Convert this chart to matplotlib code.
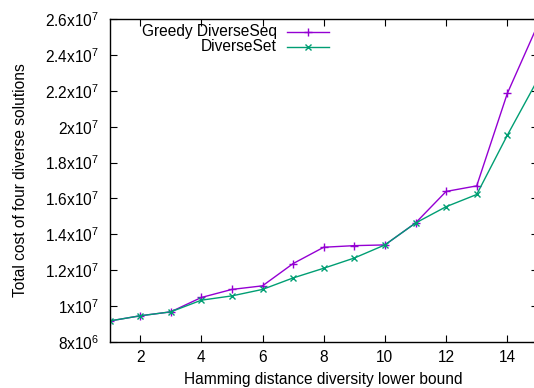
import matplotlib
matplotlib.use("Agg")
import matplotlib.pyplot as plt
from matplotlib.ticker import FixedLocator, FixedFormatter

# ── Dati ──────────────────────────────────────────────────────────────────────
x_bound = [1, 2, 3, 4, 5, 6, 7, 8, 9, 10, 11, 12, 13, 14, 15]
greedy_seq = [9.17e6, 9.46e6, 9.68e6, 10.48e6, 10.93e6, 11.13e6, 12.37e6, 13.28e6,
              13.37e6, 13.41e6, 14.63e6, 16.39e6, 16.70e6, 21.85e6, 25.69e6]
diverse_set = [9.17e6, 9.46e6, 9.68e6, 10.33e6, 10.57e6, 10.93e6, 11.57e6, 12.11e6,
               12.68e6, 13.41e6, 14.63e6, 15.54e6, 16.22e6, 19.52e6, 22.64e6]
series_names = ["Greedy DiverseSeq", "DiverseSet"]

y_ticks = [8e6, 1e7, 1.2e7, 1.4e7, 1.6e7, 1.8e7, 2e7, 2.2e7, 2.4e7, 2.6e7]
y_ticklabels = ["8x10$^{6}$", "1x10$^{7}$", "1.2x10$^{7}$", "1.4x10$^{7}$", "1.6x10$^{7}$",
                "1.8x10$^{7}$", "2x10$^{7}$", "2.2x10$^{7}$", "2.4x10$^{7}$", "2.6x10$^{7}$"]
x_ticks = [2, 4, 6, 8, 10, 12, 14]

PURPLE = "#9400d3"
GREEN = "#009e73"
FS = 11.2

plt.rcParams["font.family"] = ["Liberation Sans", "DejaVu Sans"]
plt.rcParams["mathtext.default"] = "regular"

fig = plt.figure(figsize=(5.34, 3.88), dpi=100)
W, H = 534, 388
ax = fig.add_axes([109.5 / W, (H - 342) / H, 428.4 / W, (342 - 19) / H])

ax.plot(x_bound, greedy_seq, color=PURPLE, lw=1.0, marker="+", ms=6, mew=1.0)
ax.plot(x_bound, diverse_set, color=GREEN, lw=1.0, marker="x", ms=4.5, mew=1.0)

ax.set_xlim(1, 15)
ax.set_ylim(8e6, 2.6e7)
ax.xaxis.set_major_locator(FixedLocator(x_ticks))
ax.yaxis.set_major_locator(FixedLocator(y_ticks))
ax.yaxis.set_major_formatter(FixedFormatter(y_ticklabels))
ax.tick_params(direction="in", length=5, width=0.8, top=True, right=True,
               labelsize=FS, color="black")
ax.tick_params(axis="y", pad=7.5)
ax.tick_params(axis="x", pad=6)
for s in ax.spines.values():
    s.set_linewidth(1.0)

ax.set_xlabel("Hamming distance diversity lower bound", fontsize=FS, labelpad=4.5)
ax.set_ylabel("Total cost of four diverse solutions", fontsize=FS, labelpad=12)

# legenda stile gnuplot: testo allineato a destra, campione a destra
leg_y = [0.961, 0.914]
for name, col, mk, ms, yy in zip(series_names, [PURPLE, GREEN], ["+", "x"], [6, 4.5], leg_y):
    ax.text(0.39, yy, name, transform=ax.transAxes, ha="right", va="center", fontsize=FS)
    ax.plot([0.415, 0.513], [yy, yy], color=col, lw=1.0, transform=ax.transAxes, clip_on=False)
    ax.plot([0.464], [yy], color=col, marker=mk, ms=ms, mew=1.0, transform=ax.transAxes,
            clip_on=False)

plt.savefig("out.png", dpi=100)
plt.close()
